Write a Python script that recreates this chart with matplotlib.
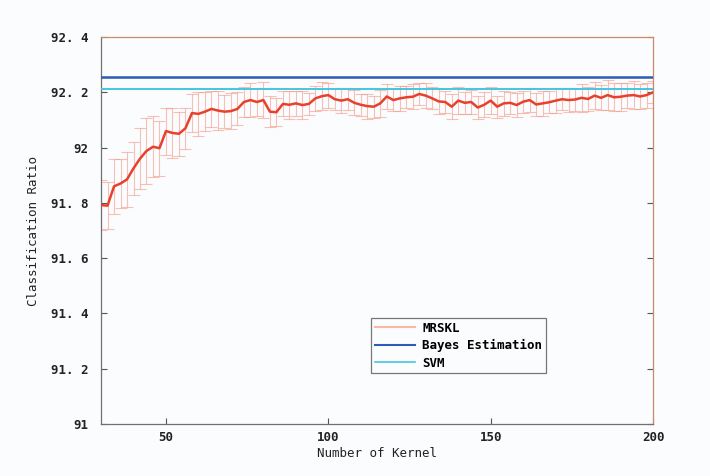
import numpy as np
import matplotlib
matplotlib.use('Agg')
import matplotlib.pyplot as plt

# number of kernels
kernels = list(range(30, 201, 2))

# MRSKL mean classification ratio
mrskl_mean = [91.792, 91.790, 91.860, 91.870, 91.885, 91.925, 91.960, 91.988, 92.003, 91.998,
              92.060, 92.053, 92.050, 92.070, 92.125, 92.122, 92.130, 92.140, 92.134, 92.130,
              92.132, 92.140, 92.165, 92.172, 92.165, 92.172, 92.130, 92.128, 92.158, 92.155,
              92.160, 92.154, 92.158, 92.178, 92.186, 92.190, 92.175, 92.170, 92.175, 92.162,
              92.155, 92.150, 92.148, 92.160, 92.185, 92.172, 92.178, 92.182, 92.184, 92.194,
              92.188, 92.178, 92.167, 92.165, 92.148, 92.170, 92.162, 92.165, 92.145, 92.155,
              92.170, 92.148, 92.160, 92.162, 92.154, 92.166, 92.172, 92.156, 92.160, 92.164,
              92.170, 92.175, 92.172, 92.174, 92.180, 92.176, 92.188, 92.180, 92.190, 92.182,
              92.184, 92.188, 92.190, 92.185, 92.190, 92.200]

# MRSKL error (half width)
mrskl_err = [0.090, 0.085, 0.100, 0.090, 0.100, 0.095, 0.110, 0.120, 0.110, 0.100,
             0.085, 0.090, 0.080, 0.075, 0.070, 0.080, 0.070, 0.065, 0.070, 0.060,
             0.065, 0.060, 0.055, 0.060, 0.050, 0.065, 0.055, 0.050, 0.045, 0.050,
             0.045, 0.050, 0.040, 0.045, 0.050, 0.045, 0.040, 0.045, 0.040, 0.045,
             0.040, 0.045, 0.040, 0.050, 0.045, 0.040, 0.045, 0.040, 0.045, 0.040,
             0.045, 0.040, 0.045, 0.040, 0.045, 0.050, 0.040, 0.045, 0.040, 0.045,
             0.050, 0.040, 0.045, 0.040, 0.045, 0.040, 0.045, 0.040, 0.045, 0.040,
             0.045, 0.040, 0.045, 0.040, 0.050, 0.045, 0.050, 0.045, 0.055, 0.050,
             0.050, 0.045, 0.050, 0.045, 0.045, 0.040]

bayes_value = 92.255
svm_value = 92.213

ytick_vals = [91, 91.2, 91.4, 91.6, 91.8, 92, 92.2, 92.4]
ytick_labels = ['91', '91. 2', '91. 4', '91. 6', '91. 8', '92', '92. 2', '92. 4']
xtick_vals = [50, 100, 150, 200]

mono = 'DejaVu Sans Mono'

fig = plt.figure(figsize=(7.1, 4.76), dpi=100)
fig.patch.set_facecolor('#fbfcfd')
ax = fig.add_axes([0.1423, 0.1092, 0.7775, 0.813])
ax.set_facecolor('#fbfcfe')

ax.errorbar(kernels, mrskl_mean, yerr=mrskl_err, fmt='none', ecolor='#f39a84',
            elinewidth=0.8, capsize=4.5, capthick=0.8, alpha=0.6, zorder=2)
ax.plot(kernels, mrskl_mean, color='#e8412b', lw=1.8, zorder=3)

ax.axhline(bayes_value, color='#2d5bb5', lw=1.8, zorder=4)
ax.axhline(svm_value, color='#45c5e0', lw=1.4, zorder=4)

ax.set_xlim(30, 200)
ax.set_ylim(91, 92.4)
ax.set_xticks(xtick_vals)
ax.set_xticklabels([str(v) for v in xtick_vals])
ax.set_yticks(ytick_vals)
ax.set_yticklabels(ytick_labels)
ax.tick_params(direction='in', length=4, width=0.8, color='#555555',
               right=True, top=False)
ax.tick_params(axis='y', pad=9)
ax.tick_params(axis='x', pad=5)
for lab in ax.get_xticklabels() + ax.get_yticklabels():
    lab.set_family(mono)
    lab.set_fontsize(9)
    lab.set_fontweight('bold')
    lab.set_color('#222222')

for side in ['left', 'bottom']:
    ax.spines[side].set_color('#707070')
for side in ['top', 'right']:
    ax.spines[side].set_color('#c98a6a')
for sp in ax.spines.values():
    sp.set_linewidth(0.9)

ax.set_xlabel('Number of Kernel', family=mono, fontsize=9, color='#222222', labelpad=2)
ax.set_ylabel('Classification Ratio', family=mono, fontsize=9, color='#222222', labelpad=8)

h1, = ax.plot([], [], color='#f7b8a6', lw=1.5)
h2, = ax.plot([], [], color='#2d5bb5', lw=1.5)
h3, = ax.plot([], [], color='#45c5e0', lw=1.2)
leg = ax.legend([h1, h2, h3], ['MRSKL', 'Bayes Estimation', 'SVM'],
                loc='upper left', bbox_to_anchor=(0.478, 0.29),
                prop={'family': mono, 'size': 9, 'weight': 'bold'},
                handlelength=3.2, handletextpad=0.6, labelspacing=0.35,
                borderpad=0.3, fancybox=False, framealpha=1, edgecolor='#777777')
leg.get_frame().set_linewidth(0.9)
leg.get_frame().set_facecolor('#fbfcfe')

fig.savefig('out.png', dpi=100, facecolor=fig.get_facecolor())
